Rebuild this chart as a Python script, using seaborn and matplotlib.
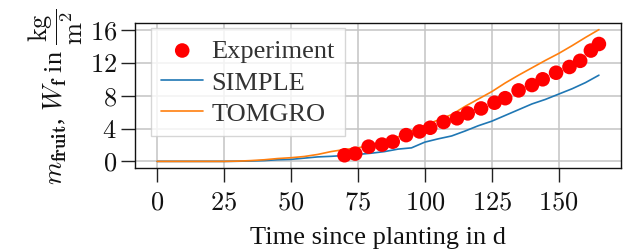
import matplotlib
matplotlib.use('Agg')
import matplotlib.pyplot as plt
import seaborn as sns
import pandas as pd
from matplotlib.ticker import FuncFormatter

exp_days = [70, 74, 79, 84, 88, 93, 98, 102, 107, 112, 116, 121, 126, 130, 135, 140, 144, 149, 154, 158, 162, 165]
exp_vals = [0.75, 0.95, 1.8, 2.05, 2.4, 3.2, 3.65, 4.1, 4.8, 5.25, 5.85, 6.45, 7.15, 7.7, 8.65, 9.3, 10.0, 10.8, 11.5, 12.25, 13.5, 14.3]

# Simulated fruit mass, every 5 days
sim_days = [0, 5, 10, 15, 20, 25, 30, 35, 40, 45, 50, 55, 60, 65, 70, 75, 80, 85, 90, 95, 100,
            105, 110, 115, 120, 125, 130, 135, 140, 145, 150, 155, 160, 165]
simple_vals = [0, 0, 0, 0, 0, 0, 0.02, 0.05, 0.1, 0.2, 0.25, 0.4, 0.55, 0.62, 0.72, 0.85, 1.0, 1.2, 1.5, 1.65, 2.35,
               2.75, 3.1, 3.7, 4.35, 4.9, 5.6, 6.3, 7.0, 7.55, 8.2, 8.85, 9.6, 10.5]
tomgro_vals = [0, 0, 0, 0, 0, 0, 0.03, 0.1, 0.2, 0.35, 0.45, 0.6, 0.85, 1.2, 1.45, 1.65, 2.0, 2.45, 3.0, 3.7, 4.4,
               5.05, 5.7, 6.7, 7.6, 8.5, 9.55, 10.5, 11.4, 12.3, 13.15, 14.1, 15.1, 16.05]

x_ticks = [0, 25, 50, 75, 100, 125, 150]
y_ticks = [0, 4, 8, 12, 16]

sns.set_theme(style='whitegrid')
plt.rcParams['font.family'] = ['Liberation Serif', 'DejaVu Serif']
plt.rcParams['mathtext.fontset'] = 'cm'

exp_df = pd.DataFrame({'t': exp_days, 'W': exp_vals})
sim_df = pd.DataFrame({'t': sim_days, 'SIMPLE': simple_vals, 'TOMGRO': tomgro_vals})

fig = plt.figure(figsize=(6.32, 2.53), dpi=100)
ax = fig.add_axes([0.2136, 0.332, 0.769, 0.573])

sns.lineplot(data=sim_df, x='t', y='SIMPLE', ax=ax, color='#1f77b4', linewidth=1.2, label='SIMPLE', zorder=3)
sns.lineplot(data=sim_df, x='t', y='TOMGRO', ax=ax, color='#ff7f0e', linewidth=1.2, label='TOMGRO', zorder=3)
sns.scatterplot(data=exp_df, x='t', y='W', ax=ax, color='red', s=110, edgecolor='none', label='Experiment', zorder=4)

ax.set_xticks(x_ticks)
ax.set_yticks(y_ticks)
fmt = FuncFormatter(lambda v, p: f'${v:g}$')
ax.xaxis.set_major_formatter(fmt)
ax.yaxis.set_major_formatter(fmt)
ax.tick_params(axis='both', which='major', labelsize=19, length=10, width=1, color='#222222',
               direction='out', bottom=True, left=True, pad=3, labelcolor='#111111')
ax.tick_params(axis='x', pad=7)
ax.grid(True, color='#c4c4c4', linewidth=1.1)

for sp in ax.spines.values():
    sp.set_color('#111111')
    sp.set_linewidth(1.0)

ax.set_xlabel('Time since planting in d', fontsize=19, color='#111111', labelpad=9)
ax.set_ylabel(r'$m_{\mathbf{fruit}}$, $W_{\mathbf{f}}$ in $\dfrac{\mathrm{kg}}{\mathrm{m}^2}$',
              fontsize=19, color='#111111', labelpad=3)

handles, labels = ax.get_legend_handles_labels()
order = [labels.index('Experiment'), labels.index('SIMPLE'), labels.index('TOMGRO')]
leg = ax.legend([handles[i] for i in order], [labels[i] for i in order], loc='upper left',
                bbox_to_anchor=(0.032, 0.963), borderaxespad=0,
                fontsize=19, frameon=True, framealpha=0.8, edgecolor='#cccccc', fancybox=False,
                handlelength=1.6, borderpad=0.4, labelspacing=0.3, handletextpad=0.3)
for t in leg.get_texts():
    t.set_color('#333333')

fig.savefig('out.png', dpi=100)
